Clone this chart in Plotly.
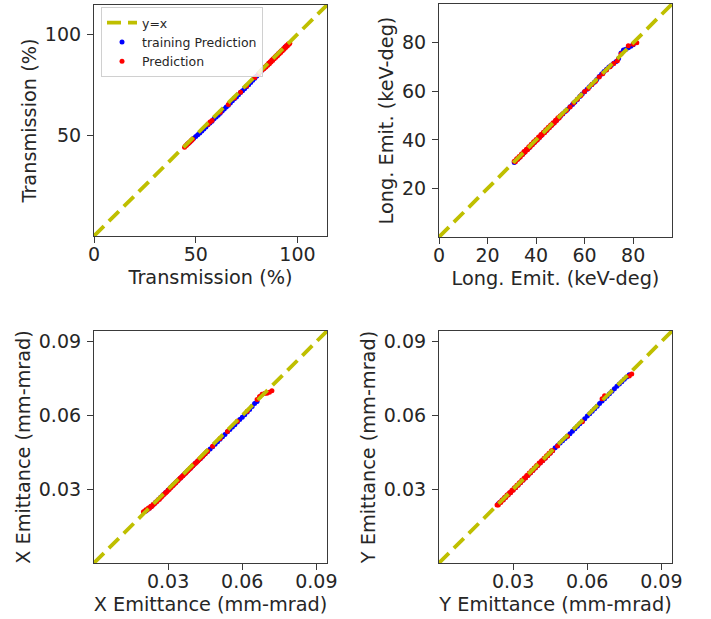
import plotly.graph_objects as go

# ---------------- data ----------------
# Transmission (%)
trans_train_true = [46, 47, 48, 49, 50, 51, 52, 53, 54, 55, 56, 57, 58, 59, 60, 61, 62, 63, 64, 65, 66, 67,
                    68, 69, 70, 71, 72, 73, 74, 75, 76, 77, 78, 79, 80, 81, 82, 83, 84, 86, 88, 90, 92, 94]
trans_train_pred = [45.6, 46.5, 47.4, 48.5, 49.3, 50.2, 51.1, 52.1, 53.0, 54.0, 55.1, 56.0, 56.9, 58.1,
                    59.0, 59.9, 60.9, 62.0, 63.0, 63.9, 64.8, 65.9, 67.0, 68.0, 68.9, 70.0, 71.1, 72.0,
                    73.0, 74.0, 75.0, 76.1, 77.2, 78.2, 79.3, 80.4, 81.5, 82.6, 83.6, 85.6, 87.6, 89.7,
                    91.7, 93.8]
trans_test_true = [44.5, 45.0, 45.5, 46.0, 46.5, 47.0, 47.5, 48.0, 48.5, 56.0, 57.0, 58.0, 62.0, 66.0,
                   69.0, 72.0, 75.0, 79.0, 81.0, 82.5, 83.5, 84.0, 84.5, 85.0, 85.4, 85.8, 86.2, 86.6,
                   87.0, 87.4, 87.8, 88.2, 88.6, 89.0, 89.4, 89.8, 90.2, 90.6, 91.0, 91.4, 91.8, 92.2,
                   92.6, 93.0, 93.4, 93.8, 94.2, 94.6, 95.0, 95.4, 95.8, 96.2]
trans_test_pred = [44.0, 44.7, 45.0, 45.7, 46.0, 46.6, 47.0, 47.6, 47.9, 55.4, 56.5, 57.3, 61.3, 65.2,
                   68.4, 71.2, 74.4, 78.6, 80.6, 82.2, 82.9, 83.8, 83.8, 84.8, 84.6, 85.6, 85.4, 86.4,
                   86.2, 87.2, 87.0, 88.0, 87.8, 88.8, 88.6, 89.6, 89.4, 90.4, 90.2, 91.2, 91.0, 92.0,
                   91.8, 92.8, 92.6, 93.6, 93.4, 94.4, 94.2, 95.2, 95.0, 95.6]

# Long. Emit. (keV-deg)
long_train_true = [31, 32, 33, 34, 35, 36, 37, 38, 39, 40, 41, 42, 43, 44, 45, 46, 47, 48, 49, 50, 51, 52,
                   53, 54, 55, 56, 57, 58, 59, 60, 61, 62, 63, 64, 65, 66, 67, 68, 69, 70, 71, 72, 73, 74,
                   75, 76, 77, 78, 79, 80]
long_train_pred = [30.7, 31.8, 32.7, 33.8, 34.7, 35.8, 36.7, 37.8, 38.7, 39.8, 40.7, 41.7, 42.8, 43.7,
                   44.8, 45.7, 46.8, 47.7, 48.8, 49.8, 50.7, 51.7, 52.6, 53.7, 54.6, 55.6, 56.7, 57.9,
                   58.9, 59.8, 60.9, 61.9, 62.8, 63.8, 64.9, 66.1, 67.2, 68.2, 69.1, 70.0, 70.8, 71.6,
                   72.3, 73.5, 75.8, 77.0, 77.4, 78.0, 78.6, 79.2]
long_test_true = [31.0, 31.5, 32.0, 32.5, 33.0, 33.5, 34.0, 34.5, 35.0, 35.5, 36.0, 36.5, 37.0, 37.5,
                  38.0, 38.5, 39.0, 39.5, 40.0, 40.5, 41.0, 41.5, 42.0, 42.5, 43.0, 43.5, 44.0, 44.5,
                  45.0, 45.5, 46.0, 46.5, 47.0, 47.5, 48.0, 48.5, 49.0, 49.5, 50.0, 51.0, 52.5, 54.0,
                  55.5, 57.0, 58.5, 60.0, 61.5, 63.0, 64.5, 66.0, 67.5, 69.0, 70.5, 72.0, 73.5, 75.0,
                  78.0, 80.0, 81.5]
long_test_pred = [31.2, 31.0, 32.2, 32.0, 33.2, 33.0, 34.2, 34.0, 35.2, 35.0, 36.2, 36.0, 37.2, 37.0,
                  38.2, 38.0, 39.2, 39.0, 40.2, 40.0, 41.2, 41.0, 42.2, 42.0, 43.2, 43.0, 44.2, 44.0,
                  45.2, 45.0, 46.1, 46.0, 47.1, 47.0, 48.1, 48.0, 49.1, 49.0, 50.0, 50.8, 52.1, 53.6,
                  55.2, 56.8, 58.3, 59.9, 61.2, 62.8, 64.2, 65.9, 67.3, 68.8, 70.1, 71.5, 72.6, 75.4,
                  78.8, 79.4, 80.0]

# X Emittance (mm-mrad)
xem_train_true = [0.021, 0.022, 0.023, 0.024, 0.025, 0.026, 0.027, 0.028, 0.029, 0.030, 0.031, 0.032,
                  0.033, 0.034, 0.035, 0.036, 0.037, 0.038, 0.039, 0.040, 0.041, 0.042, 0.043, 0.044,
                  0.045, 0.046, 0.047, 0.048, 0.049, 0.050, 0.051, 0.052, 0.053, 0.054, 0.055, 0.056,
                  0.057, 0.058, 0.059, 0.060, 0.061, 0.062, 0.063, 0.064, 0.065, 0.066]
xem_train_pred = [0.0211, 0.0219, 0.0228, 0.0238, 0.0247, 0.0257, 0.0267, 0.0277, 0.0287, 0.0297, 0.0307,
                  0.0317, 0.0326, 0.0336, 0.0346, 0.0356, 0.0366, 0.0376, 0.0385, 0.0395, 0.0405, 0.0415,
                  0.0424, 0.0434, 0.0444, 0.0453, 0.0463, 0.0473, 0.0483, 0.0493, 0.0503, 0.0513, 0.0522,
                  0.0533, 0.0543, 0.0553, 0.0562, 0.0573, 0.0583, 0.0592, 0.0603, 0.0614, 0.0624, 0.0636,
                  0.0648, 0.0656]
xem_test_true = [0.0200, 0.0205, 0.0210, 0.0215, 0.0220, 0.0225, 0.0230, 0.0235, 0.0240, 0.0245, 0.0250,
                 0.0255, 0.0260, 0.0265, 0.0270, 0.0275, 0.0280, 0.0285, 0.0290, 0.0295, 0.0300, 0.0305,
                 0.0310, 0.0315, 0.0320, 0.0325, 0.0330, 0.0335, 0.0340, 0.0345, 0.0350, 0.0355, 0.0360,
                 0.0365, 0.0370, 0.0375, 0.0380, 0.0385, 0.0390, 0.0395, 0.0400, 0.0405, 0.0410, 0.0415,
                 0.0420, 0.0425, 0.0430, 0.0435, 0.0440, 0.0445, 0.0450, 0.0455, 0.0460, 0.0480, 0.0510,
                 0.0540, 0.0580, 0.0620, 0.0660, 0.0670, 0.0680, 0.0690, 0.0700, 0.0710, 0.0720]
xem_test_pred = [0.0208, 0.0209, 0.0216, 0.0215, 0.0224, 0.0223, 0.0231, 0.0231, 0.0239, 0.0241, 0.0248,
                 0.0250, 0.0257, 0.0259, 0.0266, 0.0270, 0.0276, 0.0280, 0.0286, 0.0290, 0.0296, 0.0300,
                 0.0306, 0.0311, 0.0315, 0.0321, 0.0325, 0.0331, 0.0335, 0.0341, 0.0345, 0.0351, 0.0355,
                 0.0361, 0.0365, 0.0370, 0.0375, 0.0380, 0.0385, 0.0390, 0.0395, 0.0400, 0.0405, 0.0410,
                 0.0415, 0.0420, 0.0425, 0.0430, 0.0435, 0.0440, 0.0445, 0.0451, 0.0455, 0.0475, 0.0506,
                 0.0535, 0.0576, 0.0617, 0.0665, 0.0677, 0.0686, 0.0689, 0.0690, 0.0694, 0.0700]

# Y Emittance (mm-mrad)
yem_train_true = [0.024, 0.025, 0.026, 0.027, 0.028, 0.029, 0.030, 0.031, 0.032, 0.033, 0.034, 0.035,
                  0.036, 0.037, 0.038, 0.039, 0.040, 0.041, 0.042, 0.043, 0.044, 0.045, 0.046, 0.047,
                  0.048, 0.049, 0.050, 0.051, 0.052, 0.053, 0.054, 0.055, 0.056, 0.057, 0.058, 0.059,
                  0.060, 0.061, 0.062, 0.063, 0.064, 0.065, 0.066, 0.067, 0.068, 0.069, 0.070, 0.071,
                  0.072, 0.073, 0.074, 0.075, 0.076, 0.077]
yem_train_pred = [0.0241, 0.0249, 0.0258, 0.0268, 0.0278, 0.0288, 0.0298, 0.0307, 0.0317, 0.0327, 0.0337,
                  0.0347, 0.0357, 0.0367, 0.0377, 0.0387, 0.0397, 0.0407, 0.0417, 0.0427, 0.0437, 0.0447,
                  0.0457, 0.0468, 0.0478, 0.0488, 0.0497, 0.0506, 0.0515, 0.0525, 0.0536, 0.0546, 0.0556,
                  0.0566, 0.0576, 0.0586, 0.0597, 0.0607, 0.0617, 0.0627, 0.0637, 0.0648, 0.0658, 0.0668,
                  0.0678, 0.0688, 0.0698, 0.0708, 0.0718, 0.0728, 0.0737, 0.0747, 0.0756, 0.0765]
yem_test_true = [0.0235, 0.0240, 0.0245, 0.0250, 0.0255, 0.0260, 0.0265, 0.0270, 0.0275, 0.0280, 0.0285,
                 0.0290, 0.0295, 0.0300, 0.0305, 0.0310, 0.0315, 0.0320, 0.0325, 0.0330, 0.0335, 0.0340,
                 0.0345, 0.0350, 0.0355, 0.0360, 0.0365, 0.0370, 0.0375, 0.0380, 0.0385, 0.0390, 0.0395,
                 0.0400, 0.0405, 0.0410, 0.0415, 0.0420, 0.0425, 0.0430, 0.0435, 0.0440, 0.0445, 0.0450,
                 0.0455, 0.0460, 0.0480, 0.0520, 0.0580, 0.0660, 0.0670, 0.0770, 0.0780]
yem_test_pred = [0.0236, 0.0236, 0.0246, 0.0246, 0.0256, 0.0256, 0.0266, 0.0266, 0.0276, 0.0276, 0.0286,
                 0.0286, 0.0296, 0.0296, 0.0306, 0.0306, 0.0316, 0.0316, 0.0326, 0.0326, 0.0336, 0.0336,
                 0.0346, 0.0346, 0.0356, 0.0356, 0.0366, 0.0366, 0.0376, 0.0376, 0.0386, 0.0386, 0.0396,
                 0.0396, 0.0406, 0.0406, 0.0416, 0.0416, 0.0426, 0.0426, 0.0436, 0.0436, 0.0446, 0.0446,
                 0.0456, 0.0456, 0.0476, 0.0515, 0.0574, 0.0668, 0.0680, 0.0760, 0.0768]

# y = x reference line ends per panel
diag_trans = [0, 120]
diag_long = [0, 100]
diag_emit = [0, 0.1]

# axis ranges / ticks
range_trans = [0, 114.5]
range_long = [0, 96]
range_emit = [0, 0.0943]
ticks_trans_x = [0, 50, 100]
ticks_trans_y = [50, 100]
ticks_long_x = [0, 20, 40, 60, 80]
ticks_long_y = [20, 40, 60, 80]
ticks_emit = [0.03, 0.06, 0.09]
ticks_emit_text = ["0.03", "0.06", "0.09"]

titles = ["Transmission (%)", "Long. Emit. (keV-deg)", "X Emittance (mm-mrad)", "Y Emittance (mm-mrad)"]

# ---------------- figure ----------------
W, H = 711, 619
FONT = "DejaVu Sans"
TXT = "#262626"
LINE_COLOR = "#bfbf00"
BLUE = "#0000ff"
RED = "#ff0000"
MS = 5
TICK_FS = 19
TITLE_FS = 19.3

panels = [
    dict(train=(trans_train_true, trans_train_pred), test=(trans_test_true, trans_test_pred), diag=diag_trans,
         rng=range_trans, tx=(ticks_trans_x, None), ty=(ticks_trans_y, None),
         px=(94, 327), py=(5, 236)),
    dict(train=(long_train_true, long_train_pred), test=(long_test_true, long_test_pred), diag=diag_long,
         rng=range_long, tx=(ticks_long_x, None), ty=(ticks_long_y, None),
         px=(439, 672), py=(4, 237)),
    dict(train=(xem_train_true, xem_train_pred), test=(xem_test_true, xem_test_pred), diag=diag_emit,
         rng=range_emit, tx=(ticks_emit, ticks_emit_text), ty=(ticks_emit, ticks_emit_text),
         px=(94, 327), py=(331, 563)),
    dict(train=(yem_train_true, yem_train_pred), test=(yem_test_true, yem_test_pred), diag=diag_emit,
         rng=range_emit, tx=(ticks_emit, ticks_emit_text), ty=(ticks_emit, ticks_emit_text),
         px=(439, 672), py=(331, 563)),
]

fig = go.Figure()
layout = {}
for i, p in enumerate(panels):
    n = "" if i == 0 else str(i + 1)
    xa, ya = "x" + n, "y" + n
    first = i == 0
    fig.add_trace(go.Scatter(x=p["train"][0], y=p["train"][1], mode="markers", xaxis=xa, yaxis=ya,
                             marker=dict(color=BLUE, size=MS, line=dict(width=0)),
                             name="training Prediction", showlegend=first, legendrank=2))
    fig.add_trace(go.Scatter(x=p["test"][0], y=p["test"][1], mode="markers", xaxis=xa, yaxis=ya,
                             marker=dict(color=RED, size=MS, line=dict(width=0)),
                             name="Prediction", showlegend=first, legendrank=3))
    fig.add_trace(go.Scatter(x=p["diag"], y=p["diag"], mode="lines", xaxis=xa, yaxis=ya,
                             line=dict(color=LINE_COLOR, width=3.8, dash="14px,7px"),
                             name="y=x", showlegend=first, legendrank=1))
    common = dict(showgrid=False, zeroline=False, showline=True, mirror=True, linecolor="#3a3a3a",
                  linewidth=1.2, ticks="outside", ticklen=6, tickwidth=1, tickcolor="#3a3a3a",
                  tickfont=dict(family=FONT, size=TICK_FS, color=TXT), range=p["rng"], automargin=False,
                  fixedrange=True)
    xd = [p["px"][0] / W, p["px"][1] / W]
    yd = [1 - p["py"][1] / H, 1 - p["py"][0] / H]
    xt = dict(tickvals=p["tx"][0])
    if p["tx"][1]:
        xt["ticktext"] = p["tx"][1]
    yt = dict(tickvals=p["ty"][0])
    if p["ty"][1]:
        yt["ticktext"] = p["ty"][1]
    layout["xaxis" + n] = dict(domain=xd, anchor=ya, ticklabelstandoff=-5,
                               title=dict(text=titles[i], font=dict(family=FONT, size=TITLE_FS, color=TXT), standoff=6),
                               **xt, **common)
    layout["yaxis" + n] = dict(domain=yd, anchor=xa, ticklabelstandoff=2,
                               title=dict(text=titles[i], font=dict(family=FONT, size=TITLE_FS, color=TXT), standoff=3),
                               **yt, **common)

fig.update_layout(
    width=W, height=H,
    margin=dict(l=0, r=0, t=0, b=0),
    paper_bgcolor="white", plot_bgcolor="white",
    font=dict(family=FONT, color=TXT),
    legend=dict(x=101 / W, y=1 - 7 / H, xanchor="left", yanchor="top",
                bgcolor="rgba(255,255,255,0.85)", bordercolor="#d0d0d0", borderwidth=1,
                font=dict(family=FONT, size=12.5, color=TXT), tracegroupgap=0, itemwidth=30),
    showlegend=True,
    **layout,
)

# remove the default page margin so the figure fills the window exactly
fig.write_html("out.html", config={"displayModeBar": False},
               post_script="document.body.style.margin='0px';")
